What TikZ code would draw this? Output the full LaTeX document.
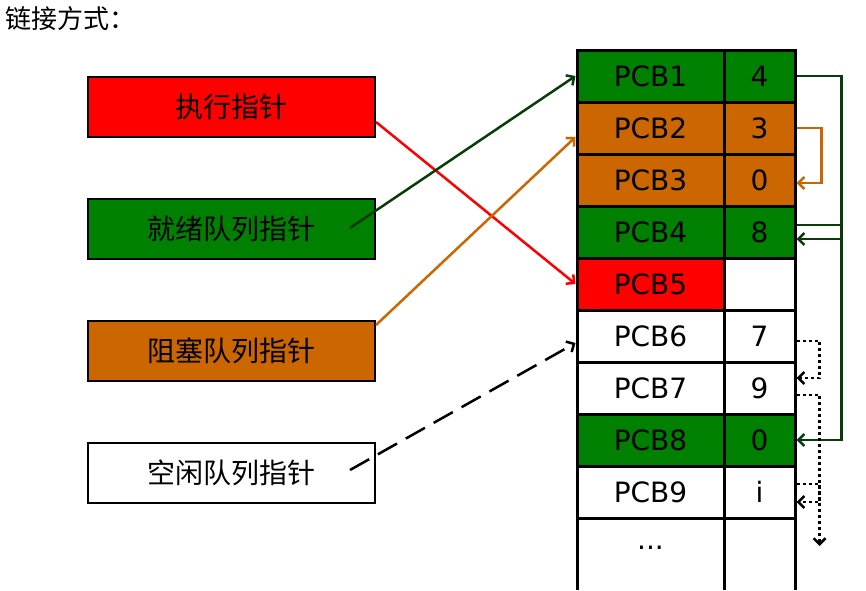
\documentclass[tikz,border=0pt]{standalone}
\usepackage{fontspec}
\setmainfont{DejaVu Sans}
\newfontfamily\cjk{Noto Sans CJK SC}
\definecolor{pgreen}{RGB}{0,128,0}
\definecolor{porange}{RGB}{204,102,0}
\definecolor{dgreen}{RGB}{10,60,10}
\tikzset{
  ptr/.style={draw=black, line width=2pt, minimum width=287pt, minimum height=60pt, font=\cjk\fontsize{28}{30}\selectfont},
  cell/.style={draw=black, line width=3pt, minimum height=52pt, font=\fontsize{28}{30}\selectfont},
  link/.style={line width=2.5pt, -{Straight Barb[length=6pt,width=12pt]}}
}
\usetikzlibrary{arrows.meta}
\begin{document}
\begin{tikzpicture}[x=1pt,y=-1pt]
	\useasboundingbox (0,0) rectangle (866,590);
	\node[anchor=north west, font=\cjk\fontsize{26}{28}\selectfont, inner sep=0pt] (title) at (5,6) {链接方式：};

	\node[ptr, fill=red] (exec) at (231.5,107) {执行指针};
	\node[ptr, fill=pgreen] (ready) at (231.5,229) {就绪队列指针};
	\node[ptr, fill=porange] (block) at (231.5,351) {阻塞队列指针};
	\node[ptr, fill=white] (free) at (231.5,473) {空闲队列指针};

	% PCB table
	\foreach \i/\c/\v/\f/\g in {1/pgreen/4/pgreen/dgreen, 2/porange/3/porange/x, 3/porange/0/porange/x, 4/pgreen/8/pgreen/x,
	                            5/red//white/x, 6/white/7/white/x, 7/white/9/white/x, 8/pgreen/0/pgreen/x, 9/white/i/white/x} {
		\node[cell, fill=\c, minimum width=147pt] (p\i) at (650.5,{24+52*\i}) {PCB\i};
		\node[cell, fill=\f, minimum width=71pt] (v\i) at (759.5,{24+52*\i}) {\v};
	}
	\draw[line width=3pt] (577,519) -- (577,590) (724,519) -- (724,590) (795,519) -- (795,590);
	\node[font=\fontsize{28}{30}\selectfont] (dots) at (650.5,548) {...};

	\draw[link, red] (exec.east) ++(0,15) coordinate (e1) -- (p5.west);
	\draw[link, dgreen] (350,228) coordinate (r1) -- (p1.west);
	\draw[link, porange] (block.east) ++(0,-26) coordinate (b1) -- ([yshift=-9pt]p2.west);
	\draw[link, black, dash pattern=on 22pt off 10pt] (350,470) coordinate (f1) -- ([yshift=-7pt]p6.west);

	\draw[link, dgreen] (v1.east) -- ++(45,0) |- ([yshift=-7pt]v4.east);
	\draw[link, dgreen] ([yshift=7pt]v4.east) -- ++(45,0) |- (v8.east);
	\draw[link, porange] (v2.east) -- ++(25,0) |- ([yshift=-3pt]v3.east);
	\draw[link, black, dashed] ([yshift=-5pt]v6.east) -- ++(23,0) |- ([yshift=10pt]v7.east);
	\draw[link, black, dashed] ([yshift=-7pt]v7.east) -- ++(23,0) |- ([yshift=-10pt]v9.east);
	\draw[link, black, dashed] ([yshift=8pt]v9.east) -- ++(23,0) -- ++(0,62);
\end{tikzpicture}
\end{document}
